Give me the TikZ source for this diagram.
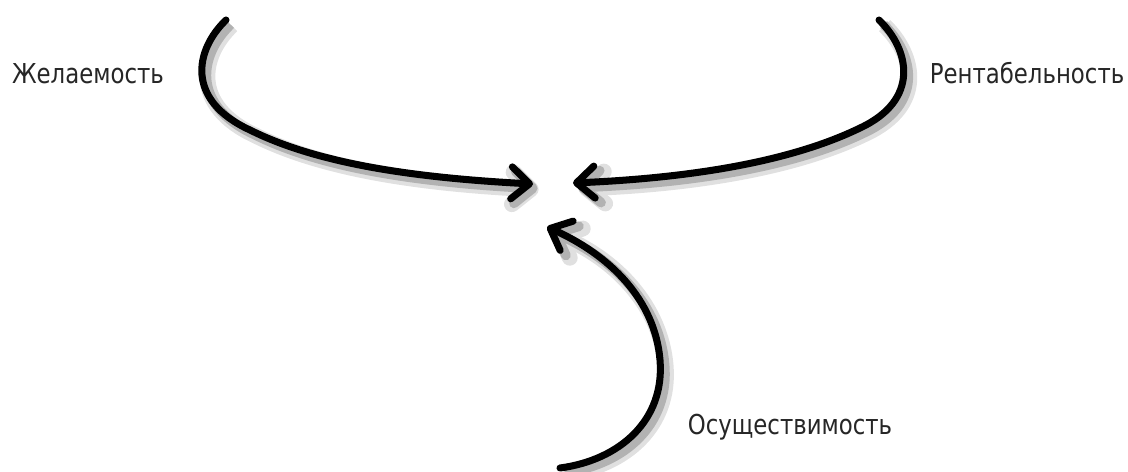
\documentclass[tikz,border=0pt]{standalone}
\usepackage{fontspec}
\setmainfont{DejaVu Sans}
\usepackage{tikz}
\usetikzlibrary{arrows.meta,positioning,calc}

% taller lettering, as in the drawing
\newcommand{\tall}[1]{\scalebox{1}[1.2]{#1}}

\begin{document}
\begin{tikzpicture}[
  x=0.02cm, y=0.02cm,
  font=\fontsize{13}{15}\selectfont,
  lbl/.style={text=black!85, inner sep=1pt},
  flow/.style={line width=4pt, line cap=round, black,
    -{Straight Barb[length=3.6mm, width=6.4mm, round]},
    preaction={draw=black!12, line width=9pt,
      transform canvas={shift={(3.2pt,-3.2pt)}}},
    preaction={draw=black!30, line width=5.5pt,
      transform canvas={shift={(2.6pt,-2.6pt)}}}},
]
  \useasboundingbox (0,0) rectangle (1128,-471);

  \node[lbl] (desir) at (88,-74) {\tall{Желаемость}};
  \node[lbl] (profit) at (1027,-73) {\tall{Рентабельность}};
  \node[lbl] (feas) at (790,-427) {\tall{Осуществимость}};

  \coordinate (hub) at (553,-200);
  \coordinate (desir-top) at (226,-20);
  \coordinate (profit-top) at (879,-20);
  \coordinate (feas-bot) at (560,-468);
  \coordinate (desir-in) at ($(hub)+(-20,16)$);
  \coordinate (profit-in) at ($(hub)+(20,17)$);
  \coordinate (feas-in) at ($(hub)+(-6,-27)$);

  \draw[flow] (desir-top) .. controls (195,-50) and (185,-100) .. (250,-130)
    .. controls (320,-165) and (420,-178) .. (desir-in);
  \draw[flow] (profit-top) .. controls (910,-50) and (920,-100) .. (860,-128)
    .. controls (790,-162) and (690,-178) .. (profit-in);
  \draw[flow] (feas-bot) .. controls (620,-460) and (665,-420) .. (660,-360)
    .. controls (655,-300) and (610,-255) .. (feas-in);
\end{tikzpicture}
\end{document}
